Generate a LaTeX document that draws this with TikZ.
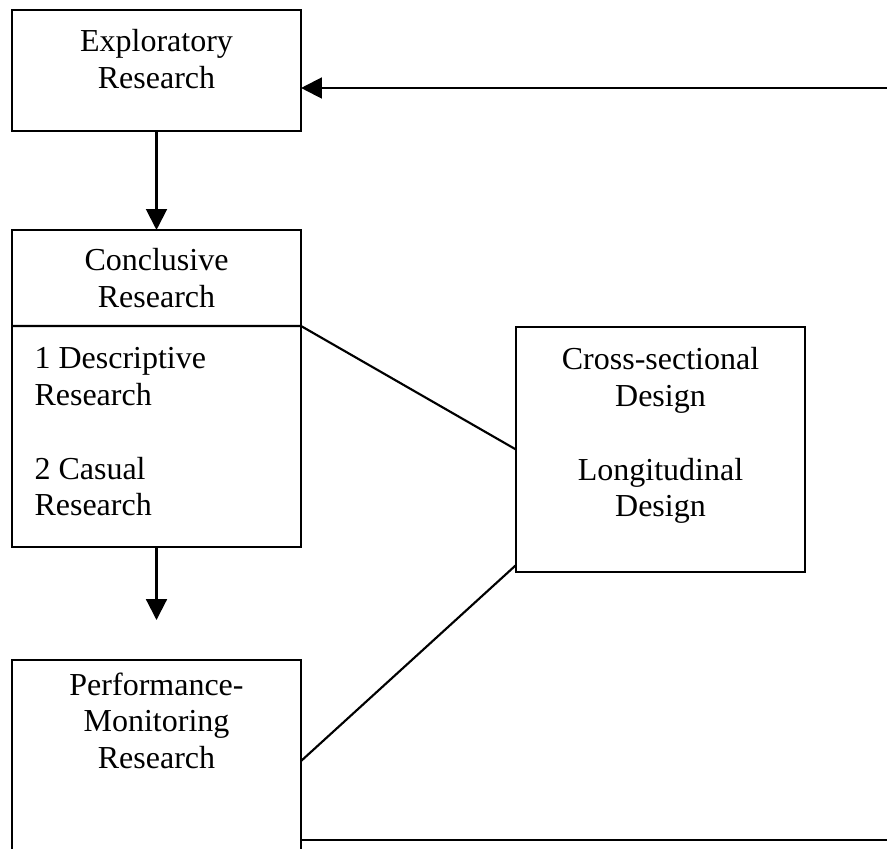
\documentclass[tikz,border=0pt]{standalone}
\usepackage{fontspec}
\setmainfont{Liberation Serif}
\usetikzlibrary{arrows.meta}

\begin{document}
\begin{tikzpicture}[
    x=0.375pt, y=-0.375pt,
    box/.style  = {rectangle, draw=black, line width=0.8pt, minimum width=108.4pt,
                   inner sep=0pt, outer sep=0pt},
    txt/.style  = {anchor=north, inner sep=0pt, align=center,
                   font=\fontsize{12}{13.8}\selectfont},
    link/.style = {line width=0.8pt},
    arr/.style  = {-{Triangle[length=7.8pt, width=7.8pt]}, line width=0.8pt}
  ]
  \useasboundingbox (0,0) rectangle (887,848);
  \clip (0,0) rectangle (887,848);

  % ── Exploratory ──────────────────────────────────────────────────────────
  \node[box, minimum height=45.4pt] (expl) at (156.5, 70.5) {};
  \node[txt] (explt) at (156.5, 29) {Exploratory\\Research};

  % ── Conclusive ───────────────────────────────────────────────────────────
  \node[box, minimum height=118.9pt] (concl) at (156.5, 388.5) {};
  \node[txt] (conclt) at (156.5, 248) {Conclusive\\Research};
  \node[txt, anchor=north west, align=left] (concll) at (34, 347)
       {1 Descriptive\\Research\\[13.8pt]2 Casual\\Research};
  \coordinate (split) at (156.5, 326);

  % ── Design ───────────────────────────────────────────────────────────────
  \node[box, minimum height=91.9pt] (cross) at (660.5, 449.5) {};
  \node[txt] (crosst) at (660.5, 347)
       {Cross-sectional\\Design\\[13.8pt]Longitudinal\\Design};

  % ── Performance-Monitoring ───────────────────────────────────────────────
  \node[box, minimum height=75.8pt] (perf) at (156.5, 761) {};
  \node[txt] (perft) at (156.5, 672) {Performance-\\Monitoring\\Research};

  % ── Connectors ───────────────────────────────────────────────────────────
  \coordinate (rtop) at (895, 88);
  \coordinate (rbot) at (895, 840);
  \coordinate (gap)  at (156.5, 620);

  \draw[arr]  (expl.south) -- (concl.north);
  \draw[arr]  (concl.south) -- (gap);
  \draw[arr]  (rtop) -- (rtop -| expl.east);
  \draw[link] (concl.west |- split) -- (concl.east |- split) -- (cross.west);
  \draw[link] (perf.east) -- ([yshift=2.6pt]cross.south west);
  \draw[link] (perf.east |- rbot) -- (rbot);
\end{tikzpicture}
\end{document}
